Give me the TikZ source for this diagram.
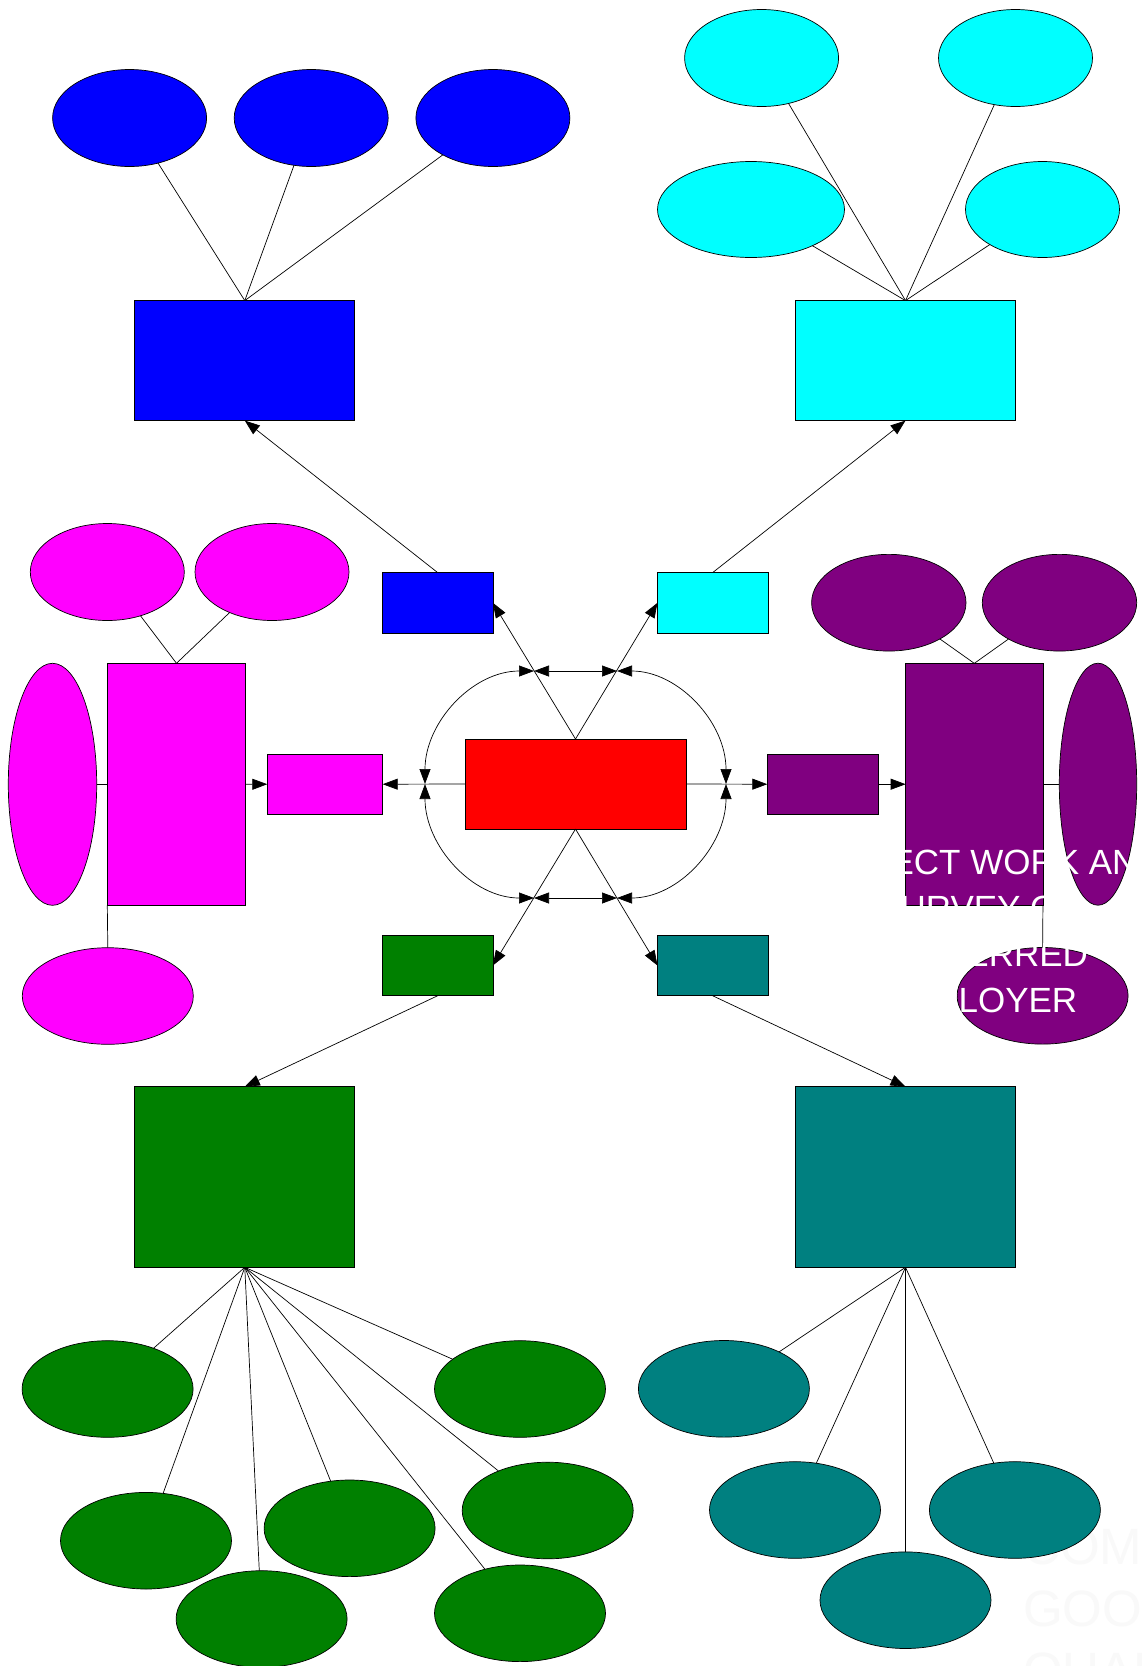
\documentclass[tikz,border=0pt]{standalone}
\usepackage{fontspec}
\newfontfamily\arialfont{Liberation Sans}
\usetikzlibrary{shapes.geometric,arrows.meta}
\definecolor{cblue}{HTML}{0000FF}
\definecolor{ccyan}{HTML}{00FFFF}
\definecolor{cmag}{HTML}{FF00FF}
\definecolor{cpurple}{HTML}{800080}
\definecolor{cred}{HTML}{FF0000}
\definecolor{cgreen}{HTML}{008000}
\definecolor{cteal}{HTML}{008080}
\definecolor{faint}{RGB}{249,249,249}
\begin{document}
\begin{tikzpicture}[x=1pt,y=-1pt,
  box/.style={draw=black,line width=0.7pt,inner sep=0pt,outer sep=0pt,rectangle},
  oval/.style={draw=black,line width=0.7pt,inner sep=0pt,outer sep=0pt,ellipse},
  link/.style={draw=black,line width=0.7pt},
  arr/.style={link,-{Triangle[length=15pt,width=11pt]}},
  darr/.style={link,{Triangle[length=15pt,width=11pt]}-{Triangle[length=15pt,width=11pt]}},
  sz/.style 2 args={minimum width=#1pt,minimum height=#2pt}
]
\useasboundingbox (0,0) rectangle (1145,1666);
\clip (0,0) rectangle (1145,1666);
\fill[white] (0,0) rectangle (1145,1666);

% faint text behind bottom right
\node[anchor=north west,inner sep=0pt,text=faint,align=left,font=\arialfont\fontsize{51}{62}\selectfont] (faintText) at (1023,1528.5) {COMPANY\\GOOD\\QUALITIES};

% blue group
\node[oval,fill=cblue,sz={154}{97}] (be1) at (129.6,118) {};
\node[oval,fill=cblue,sz={154}{97}] (be2) at (311.2,118) {};
\node[oval,fill=cblue,sz={154}{97}] (be3) at (492.9,118) {};
\node[box,fill=cblue,sz={220}{120}] (bbig) at (244.8,360.6) {};
\node[box,fill=cblue,sz={110.5}{60.5}] (bsmall) at (437.6,602.8) {};

% cyan group
\node[oval,fill=ccyan,sz={154}{97}] (ce1) at (761.6,58) {};
\node[oval,fill=ccyan,sz={154}{97}] (ce2) at (1015.5,58) {};
\node[oval,fill=ccyan,sz={187}{96}] (ce3) at (751,209.5) {};
\node[oval,fill=ccyan,sz={154}{96}] (ce4) at (1042.5,209.5) {};
\node[box,fill=ccyan,sz={220}{120}] (cbig) at (905.5,360.6) {};
\node[box,fill=ccyan,sz={110.5}{60.5}] (csmall) at (712.7,602.8) {};

% magenta group
\node[oval,fill=cmag,sz={154}{97}] (me1) at (107.3,572) {};
\node[oval,fill=cmag,sz={154}{97}] (me2) at (272,572) {};
\node[oval,fill=cmag,sz={88.4}{242}] (mtall) at (52.5,784.3) {};
\node[box,fill=cmag,sz={138.4}{242}] (mbig) at (176.5,784.3) {};
\node[oval,fill=cmag,sz={171}{96.6}] (mbot) at (107.8,996) {};
\node[box,fill=cmag,sz={115.4}{60.3}] (msmall) at (325,784.2) {};

% purple group
\node[oval,fill=cpurple,sz={154.4}{96.7}] (pe1) at (888.8,602.7) {};
\node[oval,fill=cpurple,sz={154.4}{96.7}] (pe2) at (1059.5,602.7) {};
\node[box,fill=cpurple,sz={137.3}{241.7}] (pbig) at (974.3,784.2) {};
\node[oval,fill=cpurple,sz={77.4}{242}] (ptall) at (1098,784.2) {};
\node[oval,fill=cpurple,sz={171}{96.6}] (pbot) at (1042.6,995.8) {};
\node[box,fill=cpurple,sz={111}{60.3}] (psmall) at (822.8,784.2) {};

% red centre
\node[box,fill=cred,sz={221}{90}] (red) at (575.5,784) {};

% green group
\node[box,fill=cgreen,sz={110.5}{60.5}] (gsmall) at (437.6,965.5) {};
\node[box,fill=cgreen,sz={220}{180.6}] (gbig) at (244.8,1177) {};
\node[oval,fill=cgreen,sz={171}{96.6}] (g1) at (107.6,1389) {};
\node[oval,fill=cgreen,sz={171}{96.6}] (g2) at (520,1389) {};
\node[oval,fill=cgreen,sz={171}{96.6}] (g3) at (146,1540.7) {};
\node[oval,fill=cgreen,sz={171}{96.6}] (g4) at (349.6,1528.3) {};
\node[oval,fill=cgreen,sz={171}{96.6}] (g5) at (547.7,1510.5) {};
\node[oval,fill=cgreen,sz={171}{96.6}] (g6) at (261.6,1619) {};
\node[oval,fill=cgreen,sz={171}{96.6}] (g7) at (520,1613.3) {};

% teal group
\node[box,fill=cteal,sz={110.5}{60.5}] (tsmall) at (712.7,965.5) {};
\node[box,fill=cteal,sz={220}{180.6}] (tbig) at (905.5,1177) {};
\node[oval,fill=cteal,sz={171}{96.6}] (t1) at (723.9,1388.8) {};
\node[oval,fill=cteal,sz={171}{96.6}] (t2) at (795,1510) {};
\node[oval,fill=cteal,sz={171}{96.6}] (t3) at (1014.9,1510) {};
\node[oval,fill=cteal,sz={171}{96.6}] (t4) at (905.5,1600.2) {};

% white label over purple group
\node[anchor=north,inner sep=0pt,text=white,align=center,font=\arialfont\fontsize{35}{46}\selectfont] (label) at (980,850) {PROJECT WORK AND\\SURVEY ON\\PREFERRED\\EMPLOYER};

% loop junction points
\coordinate (TL) at (534,671);
\coordinate (TR) at (617,671);
\coordinate (L) at (425,784);
\coordinate (R) at (726,784);
\coordinate (BL) at (534,898);
\coordinate (BR) at (617,898);

% connectors: blue
\draw[link] (bbig.north) -- (be1);
\draw[link] (bbig.north) -- (be2);
\draw[link] (bbig.north) -- (be3);
\draw[arr] (bsmall.north) -- (bbig.south);
% cyan
\draw[link] (cbig.north) -- (ce1);
\draw[link] (cbig.north) -- (ce2);
\draw[link] (cbig.north) -- (ce3);
\draw[link] (cbig.north) -- (ce4);
\draw[arr] (csmall.north) -- (cbig.south);
% magenta
\draw[link] (mbig.north) -- (me1);
\draw[link] (mbig.north) -- (me2);
\draw[link] (mtall.east) -- (mbig.west);
\draw[link] (mbig.south west) -- (mbot.north);
\draw[arr] (mbig.east) -- (msmall.west);
% purple
\draw[link] (pbig.north) -- (pe1);
\draw[link] (pbig.north) -- (pe2);
\draw[link] (pbig.east) -- (ptall.west);
\draw[link] (pbig.south east) -- (pbot.north);
\draw[arr] (psmall.east) -- (pbig.west);
% green
\draw[arr] (gsmall.south) -- (gbig.north);
\foreach \e in {g1,g2,g3,g4,g5,g6,g7} \draw[link] (gbig.south) -- (\e);
% teal
\draw[arr] (tsmall.south) -- (tbig.north);
\foreach \e in {t1,t2,t3,t4} \draw[link] (tbig.south) -- (\e);

% from centre
\draw[arr] (red.north) -- (bsmall.east);
\draw[arr] (red.north) -- (csmall.west);
\draw[arr] (red.south) -- (gsmall.east);
\draw[arr] (red.south) -- (tsmall.west);
\draw[arr] (red.west) -- (msmall.east);
\draw[arr] (red.east) -- (psmall.west);

% loop around centre
\draw[darr] (TL) -- (TR);
\draw[darr] (BL) -- (BR);
\draw[darr] (TL) to[out=180,in=90] (L);
\draw[darr] (L) to[out=-90,in=180] (BL);
\draw[darr] (TR) to[out=0,in=90] (R);
\draw[darr] (R) to[out=-90,in=0] (BR);
\end{tikzpicture}
\end{document}
